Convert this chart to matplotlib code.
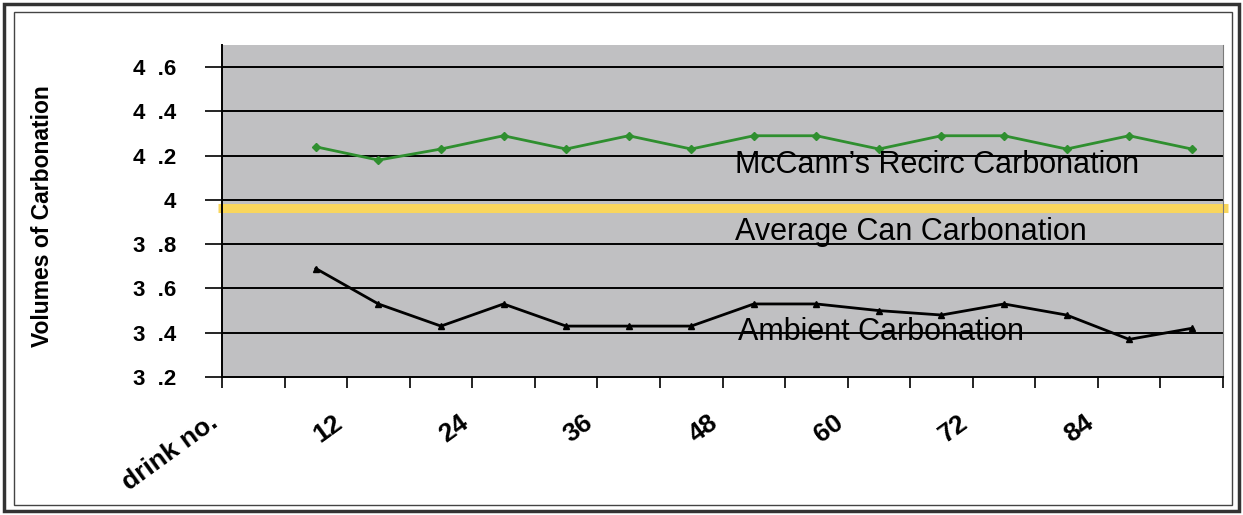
import numpy as np
import matplotlib
matplotlib.use('Agg')
import matplotlib.pyplot as plt
from matplotlib.patches import Rectangle

plt.rcParams['font.family'] = ['Liberation Sans', 'DejaVu Sans']

# drink numbers (one point every 6 drinks)
drinks = [6, 12, 18, 24, 30, 36, 42, 48, 54, 60, 66, 72, 78, 84, 90]

recirc = [4.24, 4.18, 4.23, 4.29, 4.23, 4.29, 4.23, 4.29, 4.29, 4.23, 4.29, 4.29, 4.23, 4.29, 4.23]
ambient = [3.69, 3.53, 3.43, 3.53, 3.43, 3.43, 3.43, 3.53, 3.53, 3.50, 3.48, 3.53, 3.48, 3.37, 3.42]
avg_can = 3.964

x_label_values = [0, 12, 24, 36, 48, 60, 72, 84]
x_label_text = ['drink no.', '12', '24', '36', '48', '60', '72', '84']
y_ticks = [3.2, 3.4, 3.6, 3.8, 4.0, 4.2, 4.4, 4.6]
y_tick_text = ['3  .2', '3  .4', '3  .6', '3  .8', '4', '4  .2', '4  .4', '4  .6']

n_categories = 16
step = 6

fig = plt.figure(figsize=(12.43, 5.15), dpi=100)
ax = fig.add_axes([222 / 1243, 1 - 377 / 515, 1001 / 1243, 332 / 515])
ax.set_facecolor('#c0c0c2')

x = np.array(drinks) / step

# horizontal gridlines
for yv in y_ticks[1:]:
    ax.axhline(yv, color='black', lw=1.4, zorder=1)

# average can carbonation band
ax.axhline(avg_can, xmin=-0.004, xmax=1.005, color='#f9d65c', lw=6.5, zorder=2,
           clip_on=False, solid_capstyle='butt')

ax.plot(x, recirc, color='#2f8f2f', lw=2, marker='D', ms=4, zorder=3)
ax.plot(x, ambient, color='black', lw=2, marker='^', ms=5, zorder=3)

ax.set_xlim(-0.5, n_categories - 0.5)
ax.set_ylim(3.2, 4.7)

# category boundary ticks
ax.set_xticks(np.arange(-0.5, n_categories, 1.0))
ax.set_xticklabels([])
ax.tick_params(axis='x', which='major', direction='out', length=8, width=1.2, color='black')

# rotated category labels
ax.xaxis.remove_overlapping_locs = False
ax.set_xticks(np.array(x_label_values) / step - 0.5, minor=True)
ax.set_xticklabels(x_label_text, minor=True, rotation=36, ha='right', va='top',
                   fontsize=19, fontweight='bold')
ax.tick_params(axis='x', which='minor', length=0, pad=24)

ax.set_yticks(y_ticks)
ax.set_yticklabels(y_tick_text, fontsize=16, fontweight='bold')
ax.tick_params(axis='y', direction='out', length=12, width=1.2, pad=21)

ax.set_ylabel('Volumes of Carbonation', fontsize=16.5, fontweight='bold')
ax.yaxis.set_label_coords(-0.168, 0.485)

ax.spines['top'].set_visible(False)
ax.spines['right'].set_color('#7a7a7a')
ax.spines['right'].set_linewidth(0.8)
ax.spines['left'].set_linewidth(1.4)
ax.spines['bottom'].set_linewidth(1.4)

ax.text(0.512, 0.614, "McCann\u2019s Recirc Carbonation", transform=ax.transAxes,
        fontsize=22, va='baseline', ha='left')
ax.text(0.512, 0.413, "Average Can Carbonation", transform=ax.transAxes,
        fontsize=22, va='baseline', ha='left')
ax.text(0.515, 0.111, "Ambient Carbonation", transform=ax.transAxes,
        fontsize=22, va='baseline', ha='left')

# double frame around the chart
fig.patches.append(Rectangle((4 / 1243, 4 / 515), 1235 / 1243, 507 / 515, transform=fig.transFigure,
                             fill=False, edgecolor='#333333', lw=2.5))
fig.patches.append(Rectangle((14 / 1243, 10 / 515), 1218 / 1243, 493 / 515, transform=fig.transFigure,
                             fill=False, edgecolor='#444444', lw=1))

fig.savefig('out.png', dpi=100)
